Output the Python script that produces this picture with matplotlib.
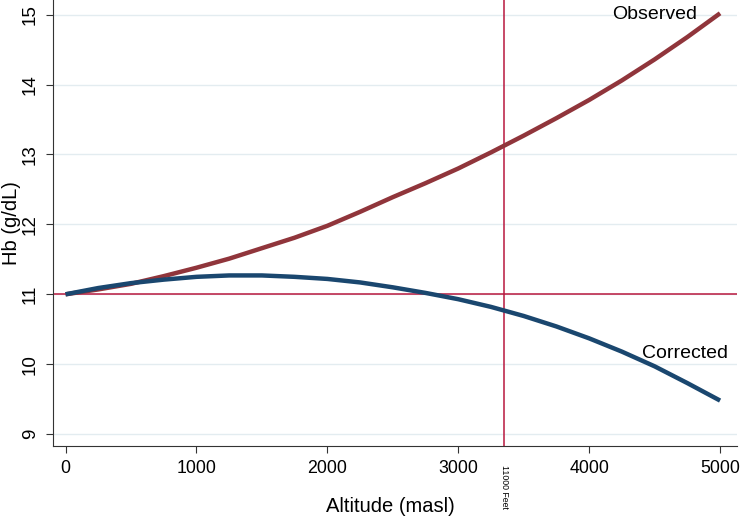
import matplotlib.pyplot as plt
import numpy as np

plt.rcParams['font.family'] = ['Liberation Sans', 'DejaVu Sans']

# Datos
altitude = [0, 250, 500, 750, 1000, 1250, 1500, 1750, 2000, 2250, 2500,
            2750, 3000, 3250, 3500, 3750, 4000, 4250, 4500, 4750, 5000]
hb_observed = [11.0, 11.07, 11.15, 11.26, 11.38, 11.51, 11.66, 11.81, 11.98, 12.18, 12.39,
               12.59, 12.80, 13.03, 13.27, 13.52, 13.78, 14.06, 14.36, 14.68, 15.02]
hb_corrected = [11.0, 11.09, 11.16, 11.21, 11.25, 11.27, 11.27, 11.25, 11.22, 11.17, 11.10,
                11.02, 10.93, 10.82, 10.69, 10.54, 10.37, 10.18, 9.97, 9.73, 9.48]
x_ticks = [0, 1000, 2000, 3000, 4000, 5000]
y_ticks = [9, 10, 11, 12, 13, 14, 15]
ref_altitude = 3352.8  # 11000 pies
ref_hb = 11

fig = plt.figure(figsize=(7.4, 5.17), dpi=100)
ax = fig.add_axes([0.0716, 0.1373, 0.9243, 0.8627])

ax.plot(altitude, hb_observed, color='#90353b', lw=3.2, solid_capstyle='butt', zorder=3)
ax.plot(altitude, hb_corrected, color='#1a476f', lw=3.2, solid_capstyle='butt', zorder=3)

ax.axhline(ref_hb, color='#b8183e', lw=1.1, zorder=2)
ax.axvline(ref_altitude, color='#b8183e', lw=1.1, zorder=2)

ax.set_xlim(-96, 5129)
ax.set_ylim(8.83, 15.21)
ax.set_xticks(x_ticks)
ax.set_yticks(y_ticks)
ax.set_yticklabels([str(v) for v in y_ticks], rotation=90, va='center')
ax.tick_params(labelsize=13.5, length=5, width=0.8, color='#333333', direction='out')
ax.tick_params(axis='x', pad=5, labelsize=12.8)
ax.tick_params(axis='y', pad=5)
ax.grid(axis='y', color='#e3ecf0', lw=1)
ax.set_axisbelow(True)

for side in ['top', 'right']:
    ax.spines[side].set_visible(False)
for side in ['left', 'bottom']:
    ax.spines[side].set_color('#333333')
    ax.spines[side].set_linewidth(0.8)

ax.set_xlabel('Altitude (masl)', fontsize=14.5, va='center')
ax.set_ylabel('Hb (g/dL)', fontsize=14.5, va='center')
ax.xaxis.set_label_coords(0.494, -0.135)
ax.yaxis.set_label_coords(-0.061, 0.50)

ax.text(ref_altitude, 8.56, '11000 Feet', rotation=-90, fontsize=6.3,
        ha='center', va='top')
ax.text(4823, 15.0, 'Observed', fontsize=14, ha='right', va='center')
ax.text(5060, 10.15, 'Corrected', fontsize=14, ha='right', va='center')

plt.savefig('out.png', dpi=100)
